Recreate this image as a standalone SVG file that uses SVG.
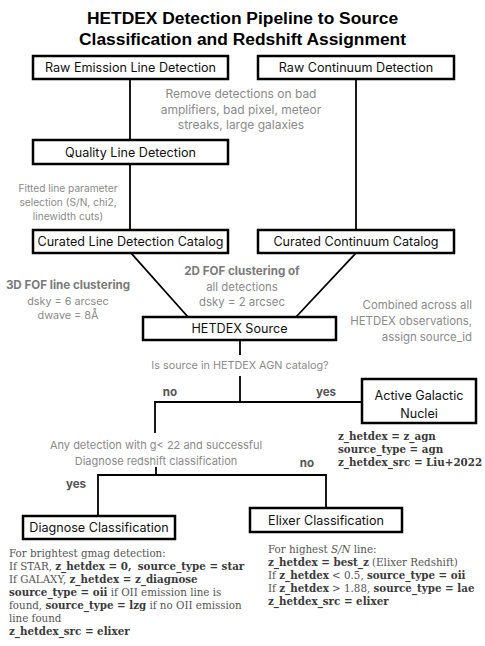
<svg xmlns="http://www.w3.org/2000/svg" width="485" height="646" viewBox="0 0 485 646">
<style>
.title{font-family:"Liberation Sans",Arial,sans-serif;font-weight:bold;font-size:17.4px;fill:#000;text-anchor:middle}
.box{fill:#fff;stroke:#000;stroke-width:2.5}
.bt{font-family:Inter,"Liberation Sans",sans-serif;font-size:12.6px;fill:#111;text-anchor:middle}
.g{font-family:Inter,"Liberation Sans",sans-serif;font-size:11.4px;fill:#8a8a8a;text-anchor:middle}
.gb{font-family:Inter,"Liberation Sans",sans-serif;font-size:11.6px;font-weight:bold;fill:#7a7a7a;text-anchor:middle}
.yn{font-family:Inter,"Liberation Sans",sans-serif;font-size:11.6px;font-weight:bold;fill:#555;text-anchor:middle}
.s{font-family:"DejaVu Serif","Liberation Serif",serif;font-size:10.3px;fill:#555}
.s .b,.sb{font-weight:bold;fill:#3a3a3a}
.c{fill:none;stroke:#000;stroke-width:1.8}
</style>
<g id="title">
<text class="title" x="242.5" y="24">HETDEX Detection Pipeline to Source</text>
<text class="title" x="242.5" y="45">Classification and Redshift Assignment</text>
</g>
<g id="connectors">
<line class="c" x1="130" y1="79" x2="130" y2="140"/>
<line class="c" x1="356" y1="79" x2="356" y2="230"/>
<line class="c" x1="130" y1="164" x2="130" y2="230"/>
<line class="c" x1="131" y1="253" x2="188" y2="317"/>
<line class="c" x1="356" y1="253" x2="296" y2="317"/>
<line class="c" x1="240" y1="340" x2="240" y2="355"/>
<polyline class="c" points="240,376 240,402 362,402"/>
<polyline class="c" points="240,402 155,402 155,433"/>
<polyline class="c" points="156,467 156,475 98,475 98,516"/>
<polyline class="c" points="156,475 326,475 326,508"/>
</g>
<g id="raw-emission">
<rect class="box" x="33" y="56" width="195" height="23"/>
<text class="bt" x="130.5" y="72">Raw Emission Line Detection</text>
</g>
<g id="raw-continuum">
<rect class="box" x="258" y="56" width="196" height="23"/>
<text class="bt" x="356" y="72">Raw Continuum Detection</text>
</g>
<g id="remove-note">
<text class="g" x="241" y="98" style="font-size:12px">Remove detections on bad</text>
<text class="g" x="241" y="113.5" style="font-size:12px">amplifiers, bad pixel, meteor</text>
<text class="g" x="241" y="129" style="font-size:12px">streaks, large galaxies</text>
</g>
<g id="quality">
<rect class="box" x="33" y="140" width="195" height="24"/>
<text class="bt" x="130.5" y="156.5">Quality Line Detection</text>
</g>
<g id="fitted-note">
<text class="g" x="68" y="192" style="font-size:10.2px">Fitted line parameter</text>
<text class="g" x="68" y="206" style="font-size:10.2px">selection (S/N, chi2,</text>
<text class="g" x="68" y="220" style="font-size:10.2px">linewidth cuts)</text>
</g>
<g id="curated-line">
<rect class="box" x="33" y="230" width="195" height="23"/>
<text class="bt" x="130.5" y="246">Curated Line Detection Catalog</text>
</g>
<g id="curated-continuum">
<rect class="box" x="258" y="230" width="196" height="23"/>
<text class="bt" x="356" y="246">Curated Continuum Catalog</text>
</g>
<g id="fof3d-note">
<text class="gb" x="68" y="289">3D FOF line clustering</text>
<text class="g" x="68" y="305" style="font-size:10.8px">dsky = 6 arcsec</text>
<text class="g" x="68" y="319" style="font-size:10.8px">dwave = 8Å</text>
</g>
<g id="fof2d-note">
<text class="gb" x="242" y="275">2D FOF clustering of</text>
<text class="g" x="242" y="291">all detections</text>
<text class="g" x="242" y="306">dsky = 2 arcsec</text>
</g>
<g id="hetdex-source">
<rect class="box" x="143" y="317" width="193" height="23"/>
<text class="bt" x="239.5" y="333">HETDEX Source</text>
</g>
<g id="combined-note">
<text class="g" x="472" y="309" style="text-anchor:end">Combined across all</text>
<text class="g" x="472" y="325" style="text-anchor:end">HETDEX observations,</text>
<text class="g" x="472" y="341" style="text-anchor:end">assign source_id</text>
</g>
<g id="agn-question">
<text class="g" x="240" y="369" style="font-size:10.8px">Is source in HETDEX AGN catalog?</text>
<text class="yn" x="170" y="396">no</text>
<text class="yn" x="326" y="396">yes</text>
</g>
<g id="agn">
<rect class="box" x="362" y="379" width="114" height="44"/>
<text class="bt" x="419" y="400">Active Galactic</text>
<text class="bt" x="419" y="418">Nuclei</text>
</g>
<g id="agn-note">
<text class="s sb" x="338" y="440">z_hetdex = z_agn</text>
<text class="s sb" x="338" y="453">source_type = agn</text>
<text class="s sb" x="338" y="466">z_hetdex_src = Liu+2022</text>
</g>
<g id="g22-question">
<text class="g" x="156" y="449" style="font-size:11px">Any detection with g&lt; 22 and successful</text>
<text class="g" x="156" y="465" style="font-size:11px">Diagnose redshift classification</text>
<text class="yn" x="307" y="467">no</text>
<text class="yn" x="76" y="488">yes</text>
</g>
<g id="diagnose">
<rect class="box" x="23" y="516" width="152" height="23"/>
<text class="bt" x="99" y="532">Diagnose Classification</text>
</g>
<g id="elixer">
<rect class="box" x="250" y="508" width="152" height="24"/>
<text class="bt" x="326" y="525">Elixer Classification</text>
</g>
<g id="diagnose-note">
<text class="s" x="9" y="557">For brightest gmag detection:</text>
<text class="s" x="9" y="570">If STAR, <tspan class="b">z_hetdex = 0,</tspan> <tspan class="b" dx="3">source_type = star</tspan></text>
<text class="s" x="9" y="583">If GALAXY, <tspan class="b">z_hetdex = z_diagnose</tspan></text>
<text class="s" x="9" y="596"><tspan class="b">source_type = oii</tspan> if OII emission line is</text>
<text class="s" x="9" y="609">found, <tspan class="b">source_type = lzg</tspan> if no OII emission</text>
<text class="s" x="9" y="622">line found</text>
<text class="s" x="9" y="635"><tspan class="b">z_hetdex_src = elixer</tspan></text>
</g>
<g id="elixer-note">
<text class="s" x="268" y="553">For highest <tspan font-style="italic">S/N</tspan> line:</text>
<text class="s" x="268" y="566"><tspan class="b">z_hetdex = best_z</tspan> (Elixer Redshift)</text>
<text class="s" x="268" y="579">If <tspan class="b">z_hetdex</tspan> &lt; 0.5, <tspan class="b">source_type = oii</tspan></text>
<text class="s" x="268" y="592">If <tspan class="b">z_hetdex</tspan> &gt; 1.88, <tspan class="b">source_type = lae</tspan></text>
<text class="s" x="268" y="605"><tspan class="b">z_hetdex_src = elixer</tspan></text>
</g>
</svg>
